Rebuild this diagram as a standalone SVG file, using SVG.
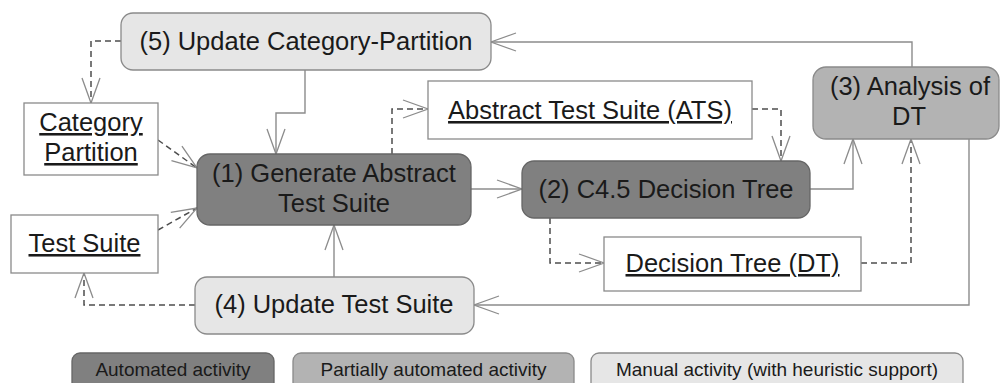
<svg xmlns="http://www.w3.org/2000/svg" width="1001" height="383" viewBox="0 0 1001 383">
<style>
.t{font-family:"Liberation Sans",Arial,sans-serif;font-size:25.5px;fill:#1a1a1a;text-anchor:middle}
.u{text-decoration:underline}
.lg{font-family:"Liberation Sans",Arial,sans-serif;font-size:19px;fill:#1a1a1a;text-anchor:middle}
.auto{fill:#808080;stroke:#666;stroke-width:1.3}
.part{fill:#b3b3b3;stroke:#8a8a8a;stroke-width:1.3}
.man{fill:#e6e6e6;stroke:#8a8a8a;stroke-width:1.3}
.art{fill:#fff;stroke:#8a8a8a;stroke-width:1.3}
.s{fill:none;stroke:#8c8c8c;stroke-width:1.4;marker-end:url(#v)}
.d{fill:none;stroke:#4d4d4d;stroke-width:1.5;stroke-dasharray:6,4;marker-end:url(#v)}
</style>
<defs>
<marker id="v" viewBox="-26 -10 28 20" refX="0" refY="0" markerWidth="28" markerHeight="20" markerUnits="userSpaceOnUse" orient="auto">
<path d="M-25,-9 L0,0 L-25,9" fill="none" stroke="#8c8c8c" stroke-width="1.3"/>
</marker>
</defs>
<g id="connectors">
<path class="d" d="M121,41 H91 V103"/>
<path class="s" d="M305,70 V113 H276 V154"/>
<path class="d" d="M158,140 L197,168"/>
<path class="d" d="M158,230 L197,208"/>
<path class="d" d="M392,154 V109 H428"/>
<path class="d" d="M752,109 H781 V161"/>
<path class="s" d="M471,189 H522"/>
<path class="s" d="M810,189 H853 V139"/>
<path class="d" d="M550,218 V263 H604"/>
<path class="d" d="M861,263 H911 V139"/>
<path class="s" d="M912,67 V42 H491"/>
<path class="s" d="M969,139 V305 H474"/>
<path class="s" d="M334,277 V225"/>
<path class="d" d="M195,305 H84 V273"/>
</g>
<g id="node5">
<rect class="man" x="121" y="13" width="370" height="57" rx="12"/>
<text class="t" x="306" y="50">(5) Update Category-Partition</text>
</g>
<g id="categoryPartition">
<rect class="art" x="24" y="103" width="134" height="72"/>
<text class="t u" x="91" y="131">Category</text>
<text class="t u" x="91" y="161">Partition</text>
</g>
<g id="testSuite">
<rect class="art" x="11" y="215" width="147" height="58"/>
<text class="t u" x="84.5" y="252">Test Suite</text>
</g>
<g id="node1">
<rect class="auto" x="197" y="154" width="274" height="71" rx="13"/>
<text class="t" x="334" y="182">(1) Generate Abstract</text>
<text class="t" x="334" y="212">Test Suite</text>
</g>
<g id="ats">
<rect class="art" x="428" y="81" width="324" height="58"/>
<text class="t u" x="590" y="119">Abstract Test Suite (ATS)</text>
</g>
<g id="node2">
<rect class="auto" x="522" y="161" width="288" height="57" rx="12"/>
<text class="t" x="666" y="198">(2) C4.5 Decision Tree</text>
</g>
<g id="dt">
<rect class="art" x="604" y="237" width="257" height="54"/>
<text class="t u" x="732.5" y="272">Decision Tree (DT)</text>
</g>
<g id="node3">
<rect class="part" x="813" y="67" width="186" height="72" rx="13"/>
<text class="t" x="910" y="95">(3) Analysis of</text>
<text class="t" x="909" y="125">DT</text>
</g>
<g id="node4">
<rect class="man" x="195" y="277" width="279" height="57" rx="12"/>
<text class="t" x="334" y="313">(4) Update Test Suite</text>
</g>
<g id="legend">
<rect class="auto" x="72" y="353" width="202" height="45" rx="8"/>
<text class="lg" x="173" y="376">Automated activity</text>
<rect class="part" x="293" y="353" width="281" height="45" rx="8"/>
<text class="lg" x="433.5" y="376">Partially automated activity</text>
<rect class="man" x="591" y="353" width="372" height="45" rx="8"/>
<text class="lg" x="777" y="376">Manual activity (with heuristic support)</text>
</g>
</svg>
